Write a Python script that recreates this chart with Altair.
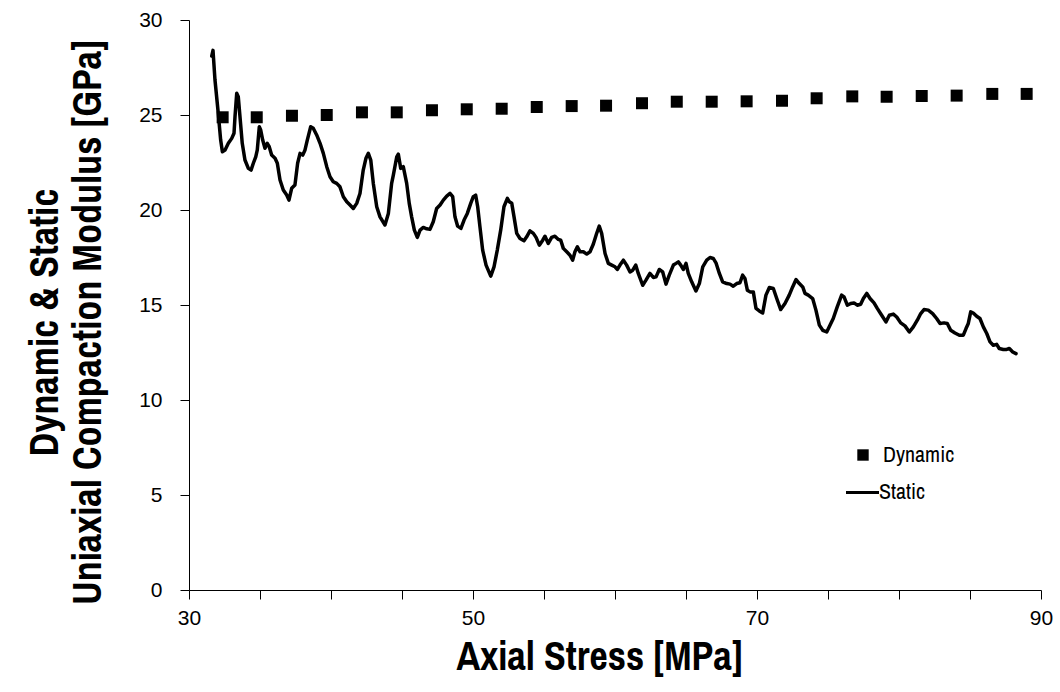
import altair as alt
import pandas as pd
import subprocess

# ---------------- data ----------------
# Dynamic modulus (square markers)
dyn_x = [32.37, 34.77, 37.25, 39.70, 42.18, 44.63, 47.11, 49.56, 52.02, 54.49, 56.95, 59.37,
         61.90, 64.35, 66.81, 69.27, 71.76, 74.20, 76.71, 79.13, 81.60, 84.06, 86.57, 88.99]
dyn_y = [24.88, 24.88, 24.96, 25.00, 25.14, 25.14, 25.25, 25.30, 25.33, 25.42, 25.47, 25.49,
         25.62, 25.70, 25.70, 25.72, 25.75, 25.88, 25.98, 25.96, 26.00, 26.02, 26.11, 26.11]

# Static modulus (line)
sta_x = [31.60, 31.69, 31.83, 32.06, 32.23, 32.35, 32.54, 32.77, 33.01, 33.17, 33.24, 33.36, 33.47, 33.59,
         33.75, 33.94, 34.18, 34.37, 34.53, 34.70, 34.81, 34.95, 35.05, 35.19, 35.35, 35.51, 35.65, 35.82,
         36.06, 36.22, 36.41, 36.64, 36.88, 37.04, 37.23, 37.46, 37.65, 37.82, 38.01, 38.17, 38.33, 38.57,
         38.75, 38.99, 39.23, 39.46, 39.70, 39.93, 40.16, 40.40, 40.63, 40.87, 41.11, 41.34, 41.57, 41.81,
         42.04, 42.27, 42.46, 42.63, 42.80, 42.98, 43.22, 43.45, 43.80, 44.04, 44.27, 44.39, 44.63, 44.74,
         44.91, 45.09, 45.33, 45.51, 45.68, 45.87, 46.08, 46.27, 46.50, 46.74, 46.97, 47.20, 47.44, 47.68,
         47.91, 48.15, 48.38, 48.57, 48.73, 48.92, 49.15, 49.37, 49.60, 49.84, 50.02, 50.19, 50.33, 50.49,
         50.68, 50.92, 51.25, 51.48, 51.71, 51.95, 52.18, 52.42, 52.56, 52.73, 52.89, 53.08, 53.31, 53.59,
         53.78, 54.01, 54.25, 54.44, 54.67, 54.91, 55.07, 55.30, 55.54, 55.77, 56.01, 56.18, 56.36, 56.60,
         56.83, 57.02, 57.18, 57.35, 57.54, 57.77, 58.01, 58.24, 58.47, 58.70, 58.89, 59.06, 59.30, 59.53,
         59.77, 60.00, 60.16, 60.35, 60.59, 60.82, 61.06, 61.25, 61.46, 61.64, 61.95, 62.18, 62.46, 62.70,
         62.89, 63.12, 63.36, 63.59, 63.82, 64.11, 64.30, 64.46, 64.63, 64.81, 65.00, 65.16, 65.40, 65.70,
         65.94, 66.18, 66.46, 66.69, 66.92, 67.11, 67.35, 67.58, 67.87, 68.10, 68.33, 68.57, 68.80, 68.99,
         69.15, 69.32, 69.51, 69.74, 69.93, 70.16, 70.40, 70.63, 70.87, 71.15, 71.39, 71.67, 71.97, 72.27,
         72.51, 72.75, 72.98, 73.22, 73.38, 73.61, 73.92, 74.15, 74.39, 74.63, 74.91, 75.14, 75.37, 75.65,
         75.96, 76.13, 76.36, 76.60, 76.83, 77.06, 77.30, 77.49, 77.73, 77.96, 78.24, 78.47, 78.78, 79.08,
         79.32, 79.60, 79.84, 80.12, 80.42, 80.73, 81.01, 81.29, 81.53, 81.76, 82.06, 82.37, 82.65, 82.89,
         83.17, 83.40, 83.64, 83.94, 84.25, 84.53, 84.72, 84.88, 85.05, 85.23, 85.47, 85.70, 85.94, 86.18,
         86.41, 86.64, 86.88, 87.06, 87.35, 87.58, 87.77, 88.01, 88.24]
sta_y = [28.10, 28.40, 26.84, 25.09, 23.68, 23.07, 23.16, 23.51, 23.77, 24.04, 24.91, 26.14, 25.96, 24.91,
         23.51, 22.63, 22.19, 22.10, 22.46, 22.80, 23.16, 24.38, 24.21, 23.68, 23.25, 23.51, 23.33, 22.89,
         22.72, 22.46, 21.58, 21.05, 20.79, 20.52, 21.14, 21.31, 22.46, 22.98, 22.89, 23.16, 23.68, 24.38,
         24.30, 23.95, 23.51, 22.98, 22.28, 21.75, 21.49, 21.40, 21.22, 20.70, 20.43, 20.26, 20.08, 20.35,
         20.87, 22.10, 22.72, 22.98, 22.63, 21.40, 20.17, 19.64, 19.21, 19.82, 21.40, 21.84, 22.80, 22.94,
         22.19, 22.28, 21.40, 20.35, 19.64, 18.94, 18.56, 18.94, 19.08, 19.01, 18.98, 19.38, 20.08, 20.26,
         20.52, 20.73, 20.87, 20.70, 19.64, 19.15, 19.03, 19.47, 19.82, 20.35, 20.70, 20.78, 20.17, 19.11,
         17.89, 17.10, 16.52, 17.01, 17.89, 18.94, 20.17, 20.61, 20.43, 20.35, 19.64, 18.77, 18.50, 18.38,
         18.59, 18.90, 18.77, 18.56, 18.15, 18.41, 18.62, 18.24, 18.56, 18.62, 18.45, 18.41, 17.98, 17.80,
         17.62, 17.36, 17.80, 18.06, 17.80, 17.80, 17.68, 17.80, 18.20, 18.75, 19.15, 18.77, 17.71, 17.19,
         17.10, 17.01, 16.87, 17.10, 17.36, 17.10, 16.74, 16.83, 17.10, 16.66, 16.04, 16.31, 16.66, 16.45,
         16.48, 16.87, 16.74, 16.10, 16.57, 17.10, 17.19, 17.27, 17.10, 16.87, 17.19, 16.66, 16.22, 15.74,
         16.13, 17.01, 17.36, 17.50, 17.45, 17.22, 16.66, 16.22, 16.13, 16.10, 15.99, 16.13, 16.17, 16.57,
         16.40, 15.78, 15.69, 15.69, 14.82, 14.69, 14.58, 15.52, 15.92, 15.87, 15.34, 14.76, 15.08, 15.52,
         15.95, 16.34, 16.13, 15.95, 15.61, 15.52, 15.34, 14.73, 13.94, 13.67, 13.58, 13.94, 14.29, 14.90,
         15.52, 15.43, 14.99, 15.08, 15.11, 14.99, 15.04, 15.34, 15.61, 15.34, 15.11, 14.82, 14.46, 14.11,
         14.46, 14.52, 14.37, 14.06, 13.90, 13.58, 13.85, 14.20, 14.55, 14.76, 14.73, 14.55, 14.29, 14.03,
         14.06, 14.03, 13.67, 13.53, 13.41, 13.41, 13.76, 14.03, 14.64, 14.58, 14.41, 14.29, 13.85, 13.50,
         13.06, 12.88, 12.93, 12.71, 12.66, 12.66, 12.71, 12.53, 12.44]

x_ticks = [30, 35, 40, 45, 50, 55, 60, 65, 70, 75, 80, 85, 90]
y_ticks = [0, 5, 10, 15, 20, 25, 30]
legend_labels = ["Dynamic", "Static"]
x_title = "Axial Stress [MPa]"
y_title = ["Dynamic & Static", "Uniaxial Compaction Modulus [GPa]"]

# ---------------- fonts ----------------
candidates = ["Liberation Sans Narrow", "Arial Narrow", "Archivo Narrow", "PT Sans Narrow",
              "Roboto Condensed", "Open Sans Condensed", "Fira Sans Condensed",
              "IBM Plex Sans Condensed", "Encode Sans Condensed", "Barlow Semi Condensed",
              "Asap Condensed", "Sofia Sans Condensed", "Saira Condensed"]
fams = set()
try:
    out = subprocess.run(["fc-list", ":", "family"], capture_output=True, text=True).stdout
    for line in out.splitlines():
        for f in line.split(","):
            fams.add(f.strip())
except Exception:
    pass
NARROW = next((c for c in candidates if c in fams), "Liberation Sans Narrow")
REG = "Liberation Sans"

dyn_df = pd.DataFrame({"x": dyn_x, "y": dyn_y})
sta_df = pd.DataFrame({"x": sta_x, "y": sta_y, "i": list(range(len(sta_x)))})

W, H = 852, 570

xscale = alt.Scale(domain=[30, 90], nice=False, zero=False)
yscale = alt.Scale(domain=[0, 30], nice=False)

xaxis = alt.Axis(values=x_ticks, labelExpr="datum.value % 20 == 10 ? datum.label : ''",
                 title=x_title, grid=False, tickSize=9, labelPadding=8,
                 labelFontSize=21, labelFont=REG, labelColor="black", domainColor="black",
                 tickColor="black", titleFont=NARROW, titleFontSize=40, titleFontWeight="bold",
                 titleColor="black", titleX=410, titleY=79, titleBaseline="alphabetic",
                 titleAlign="center", labelFlush=False)
yaxis = alt.Axis(values=y_ticks, title=y_title,
                 grid=False, tickSize=9, labelPadding=18, labelFontSize=21, labelFont=REG,
                 labelColor="black", domainColor="black", tickColor="black", titleFont=NARROW,
                 titleFontSize=40, titleFontWeight="bold", titleColor="black",
                 titleX=-132, titleY=302, titleAngle=270, titleAlign="center",
                 titleBaseline="alphabetic", titleLineHeight=43)

line = alt.Chart(sta_df).mark_line(color="black", strokeWidth=3.5, strokeJoin="round",
                                   strokeCap="round").encode(
    x=alt.X("x:Q", scale=xscale, axis=xaxis),
    y=alt.Y("y:Q", scale=yscale, axis=yaxis),
    order="i:Q",
)

pts = alt.Chart(dyn_df).mark_square(color="black", opacity=1, size=144).encode(
    x=alt.X("x:Q", scale=xscale),
    y=alt.Y("y:Q", scale=yscale),
)

# Manual legend
leg_sq = alt.Chart(pd.DataFrame({"l": [legend_labels[0]]})).mark_square(
    color="black", opacity=1, size=130).encode(x=alt.value(674), y=alt.value(435))
leg_ln = alt.Chart(pd.DataFrame({"l": [legend_labels[1]]})).mark_rule(
    color="black", strokeWidth=3.2).encode(x=alt.value(657), x2=alt.value(690), y=alt.value(472.5))
leg_t1 = alt.Chart(pd.DataFrame({"l": [legend_labels[0]]})).mark_text(
    align="left", baseline="middle", font=NARROW, fontSize=22, color="black").encode(
    x=alt.value(694), y=alt.value(435), text="l:N")
leg_t2 = alt.Chart(pd.DataFrame({"l": [legend_labels[1]]})).mark_text(
    align="left", baseline="middle", font=NARROW, fontSize=22, color="black").encode(
    x=alt.value(690), y=alt.value(472), text="l:N")

chart = alt.layer(line, pts, leg_sq, leg_ln, leg_t1, leg_t2).properties(
    width=W, height=H,
    autosize=alt.AutoSizeParams(type="none"),
    padding={"left": 189, "top": 20, "right": 19, "bottom": 102},
    background="white",
).configure_view(stroke=None)

chart.save("out.html", embed_options={"renderer": "svg", "actions": False})
